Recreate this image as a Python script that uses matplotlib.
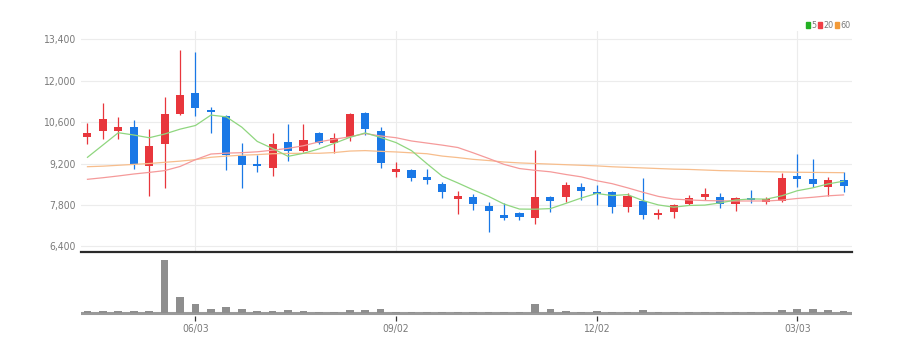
import matplotlib
matplotlib.use('Agg')
import matplotlib.pyplot as plt
import numpy as np
import pandas as pd
from matplotlib.patches import Rectangle
from matplotlib import font_manager as fm

# ---------------- data ----------------
dates = pd.date_range('2024-04-15', periods=50, freq='7D')

opens = [10084, 10297, 10297, 10421, 9116, 9858, 10870, 11589, 11005, 10803,
         9453, 9183, 9059, 9926, 9612, 10219, 9882, 10084, 10915, 10297,
         8924, 8981, 8735, 8508, 8013, 8080, 7766, 7452, 7520, 7362,
         8080, 8080, 8418, 8249, 8249, 7743, 7935, 7452, 7553, 7834,
         8060, 8080, 7834, 8047, 7901, 7924, 8779, 8688, 8418, 8644]
highs = [10577, 11231, 10779, 10668, 10354, 11454, 13030, 12972, 11096, 10836,
         9882, 9487, 10219, 10523, 10523, 10273, 10239, 10904, 10938, 10442,
         9261, 9025, 9005, 8566, 8262, 8171, 7912, 7857, 7574, 9656,
         8104, 8586, 8553, 8475, 8272, 8215, 8721, 7655, 7834, 8137,
         8363, 8195, 8080, 8306, 8080, 8870, 9521, 9342, 8735, 8924]
lows = [9858, 10017, 10017, 9005, 8114, 8363, 10836, 10803, 10219, 8981,
        8363, 8924, 8789, 9295, 9588, 9858, 9544, 9949, 10172, 9038,
        8735, 8620, 8498, 8026, 7486, 7631, 6899, 7294, 7294, 7149,
        7574, 7912, 7969, 7800, 7541, 7574, 7317, 7317, 7351, 7800,
        7969, 7689, 7608, 7857, 7834, 7901, 8397, 8397, 8104, 8249]
closes = [10239, 10691, 10442, 9183, 9791, 10870, 11511, 11062, 10938, 9487,
          9139, 9106, 9858, 9622, 9993, 9882, 10050, 10860, 10374, 9227,
          9015, 8701, 8654, 8249, 8104, 7844, 7598, 7362, 7405, 8080,
          7945, 8475, 8272, 8171, 7733, 8104, 7463, 7541, 7790, 8026,
          8161, 7834, 8026, 7979, 7992, 8721, 8688, 8508, 8644, 8452]
volumes = [50, 50, 50, 50, 50, 1550, 450, 260, 110, 170,
           110, 50, 50, 70, 50, 20, 20, 70, 70, 110,
           10, 20, 20, 20, 20, 20, 20, 20, 20, 250,
           110, 50, 20, 50, 20, 20, 70, 20, 20, 20,
           20, 20, 20, 20, 20, 70, 110, 100, 70, 50]
ma5 = [9409, 9824, 10239, 10162, 10069, 10195, 10359, 10483, 10834, 10774,
       10427, 9946, 9706, 9442, 9544, 9692, 9881, 10081, 10232, 10079,
       9905, 9635, 9194, 8769, 8545, 8310, 8090, 7831, 7663, 7658,
       7678, 7853, 8035, 8189, 8119, 8151, 7949, 7802, 7726, 7785,
       7796, 7870, 7967, 8005, 7998, 8110, 8281, 8378, 8511, 8603]
ma20 = [8667, 8720, 8780, 8846, 8900, 8960, 9100, 9330, 9520, 9550,
        9565, 9595, 9650, 9710, 9800, 9930, 10020, 10100, 10210, 10130,
        10070, 9960, 9890, 9820, 9740, 9560, 9370, 9170, 9030, 8970,
        8920, 8830, 8750, 8620, 8520, 8380, 8230, 8090, 8000, 7970,
        7950, 7940, 7935, 7935, 7935, 7965, 8020, 8060, 8110, 8140]
ma60 = [9092, 9110, 9140, 9170, 9200, 9240, 9280, 9330, 9410, 9450,
        9480, 9500, 9530, 9540, 9545, 9545, 9570, 9620, 9635, 9610,
        9590, 9560, 9530, 9450, 9400, 9340, 9300, 9250, 9220, 9200,
        9180, 9160, 9140, 9120, 9090, 9070, 9050, 9030, 9010, 9000,
        8980, 8960, 8950, 8935, 8925, 8915, 8905, 8900, 8895, 8890]
tick_labels = ['06/03', '09/02', '12/02', '03/03']
ytick_values = [6400, 7800, 9200, 10600, 12000, 13400]
legend_labels = ['5', '20', '60']

# ---------------- font: prefer a narrow/condensed sans ----------------
def pick_narrow():
    best = None
    for f in fm.fontManager.ttflist:
        name = f.name
        path = f.fname.lower()
        narrow = ('narrow' in name.lower() or 'condensed' in name.lower()
                  or 'narrow' in path or 'condensed' in path
                  or f.stretch in ('condensed', 'semi-condensed', 500 - 100))
        if not narrow:
            continue
        if f.style != 'normal' or f.weight not in (400, 'normal', 'regular'):
            continue
        if 'bold' in path or 'italic' in path or 'oblique' in path:
            continue
        rank = 0 if 'liberation' in path else (1 if 'dejavu' in path else 2)
        if best is None or rank < best[0]:
            best = (rank, f.fname)
    if best:
        return fm.FontProperties(fname=best[1])
    return fm.FontProperties(family='DejaVu Sans')

FP = pick_narrow()

def fp(size):
    p = FP.copy()
    p.set_size(size)
    return p

# ---------------- style ----------------
UP = '#e8363c'
DOWN = '#1a78e6'
MA_COLORS = ['#8fd67f', '#f59a9a', '#f7bd8c']
LEG_COLORS = ['#22b022', '#f03e46', '#f29a38']
GRID = '#ececec'
TXT = '#7a7a7a'

W, H = 908, 351
fig = plt.figure(figsize=(W / 100, H / 100), dpi=100)
x0, x1 = 81, 852
ax = fig.add_axes([x0 / W, 1 - 252 / H, (x1 - x0) / W, (252 - 31) / H])
axv = fig.add_axes([x0 / W, 1 - 316 / H, (x1 - x0) / W, (316 - 253) / H])

x = np.arange(len(dates))
xlim = (-0.42, 49.55)

# grid
for v in ytick_values:
    ax.axhline(v, color=GRID, lw=0.8, zorder=0)
tick_pos = [i for i, d in enumerate(dates) if d.strftime('%m/%d') in tick_labels]
for p in tick_pos:
    ax.axvline(p, color=GRID, lw=0.8, zorder=0)

# candles
o = np.array(opens); c = np.array(closes)
hi = np.array(highs); lo = np.array(lows)
up = c >= o
cols = np.where(up, UP, DOWN)
ax.vlines(x, lo, hi, colors=cols, lw=0.9, zorder=2)
body_bot = np.minimum(o, c)
body_h = np.maximum(np.abs(c - o), 40)
ax.bar(x, body_h, bottom=body_bot, width=0.52, color=cols, zorder=3, linewidth=0)

# moving averages
for series, col in zip([ma60, ma20, ma5], MA_COLORS[::-1]):
    ax.plot(x, series, color=col, lw=0.9, zorder=4)

ax.set_xlim(*xlim)
ax.set_ylim(6214, 13671)
ax.set_yticks(ytick_values)
ax.set_yticklabels([f'{v:,}' for v in ytick_values], fontproperties=fp(7.5),
                   color=TXT)
ax.tick_params(axis='y', length=0, pad=4)
ax.set_xticks([])
for s in ['top', 'right', 'left']:
    ax.spines[s].set_visible(False)
ax.spines['bottom'].set_color('#2a2a2a')
ax.spines['bottom'].set_linewidth(1.6)

# volume
axv.bar(x, volumes, width=0.5, color='#8e8e8e', zorder=3, linewidth=0)
axv.axhline(0, color='#9a9a9a', lw=2.2, zorder=2)
axv.set_xlim(*xlim)
axv.set_ylim(-103, 1757)
axv.set_yticks([])
axv.set_xticks(tick_pos)
axv.set_xticklabels(tick_labels, fontproperties=fp(7.5), color=TXT)
axv.tick_params(axis='x', length=3.5, width=0.9, color='#333333', pad=2)
for s in axv.spines.values():
    s.set_visible(False)
axv.patch.set_alpha(0)

# legend (top right)
lx = [806, 818, 835]
for (px, lab, col) in zip(lx, legend_labels, LEG_COLORS):
    fig.patches.append(Rectangle((px / W, 1 - 28 / H), 4 / W, 6 / H,
                                 transform=fig.transFigure, color=col))
    fig.text((px + 5.5) / W, 1 - 25 / H, lab, fontproperties=fp(6.5), color=TXT,
             va='center', ha='left')

fig.savefig('out.png', dpi=100)
